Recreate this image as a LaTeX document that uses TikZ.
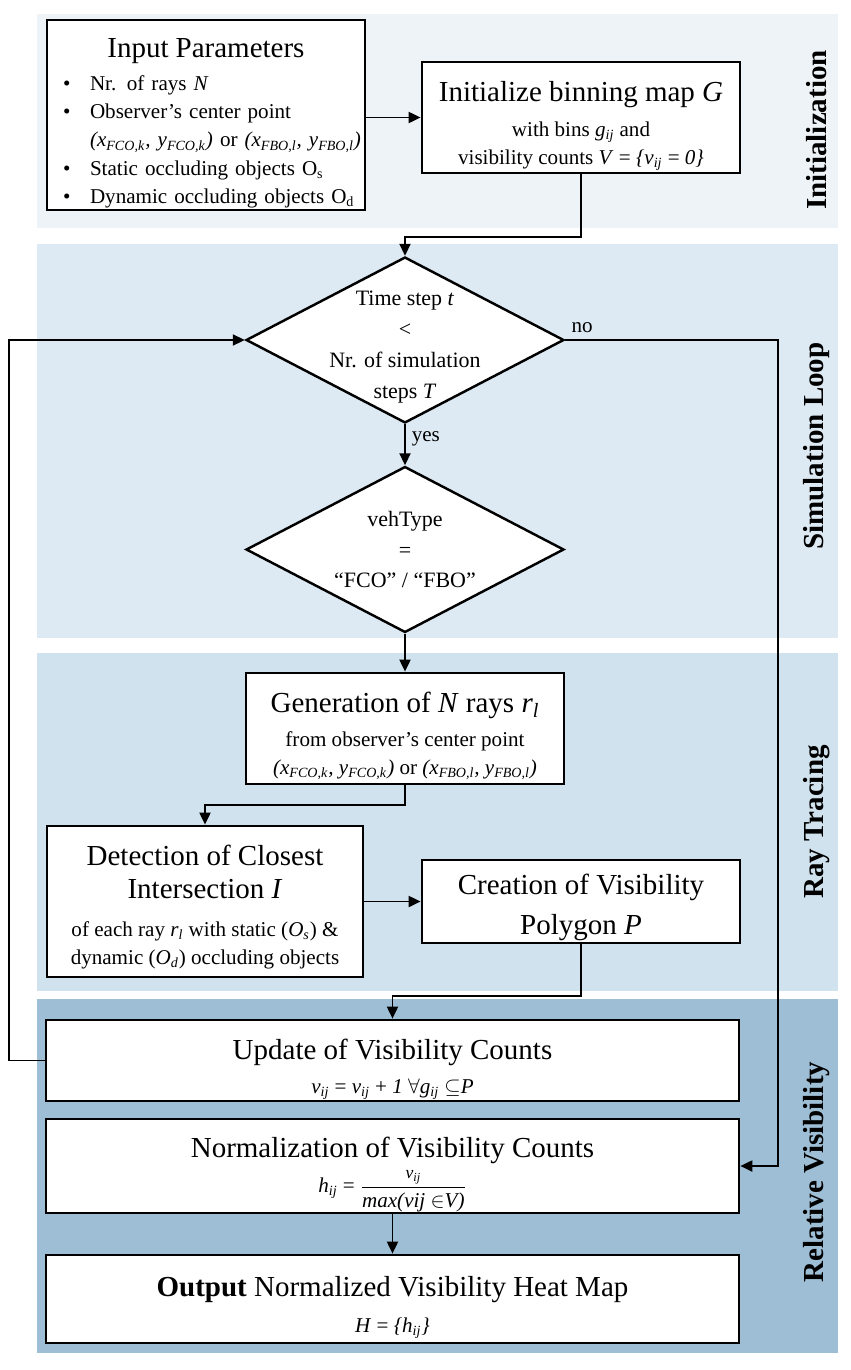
\documentclass[tikz,border=0pt]{standalone}
\usepackage{amsmath}
\usepackage{fontspec}
\setmainfont{Liberation Serif}
\usepackage{tikz}
\usetikzlibrary{positioning, arrows.meta, calc, shapes.geometric}

\definecolor{initbg}{HTML}{EEF3F8}
\definecolor{loopbg}{HTML}{DEEAF3}
\definecolor{raybg}{HTML}{D0E2EE}
\definecolor{relbg}{HTML}{9EBED5}

\newcommand{\headfont}{\fontsize{16.5}{20}\selectfont}
\newcommand{\lift}[1][21pt]{\rule{0pt}{#1}}
\newcommand{\mi}[1]{\textit{#1}}
\newcommand{\sbi}[1]{\textsubscript{\textit{#1}}}
\newcommand{\bitem}{\hspace*{0.12cm}\makebox[0.54cm][l]{\textbullet}}
\newcommand{\obspt}{\mi{(x}\sbi{FCO,k}\mi{, y}\sbi{FCO,k}\mi{)} or \mi{(x}\sbi{FBO,l}\mi{, y}\sbi{FBO,l}\mi{)}}

\begin{document}
\begin{tikzpicture}[x=0.02cm, y=-0.02cm, >={Triangle[length=2.4mm, width=2.2mm]},
    font=\fontsize{12}{16}\selectfont,
    box/.style={draw, line width=1.6pt, fill=white, align=center, inner sep=0pt},
    decision/.style={draw, diamond, line width=1.4pt, fill=white, inner sep=0pt},
    dlabel/.style={align=center, font=\fontsize{12.5}{17.6}\selectfont},
    flow/.style={->, line width=1.1pt},
    phase/.style={rotate=90, font=\headfont\bfseries}]
    \useasboundingbox (0,0) rectangle (850,1370);

    % stage bands
    \fill[initbg] (37,14) rectangle (838,228);
    \fill[loopbg] (37,244) rectangle (838,638);
    \fill[raybg] (37,653) rectangle (838,991);
    \fill[relbg] (37,999) rectangle (838,1353);

    \node[phase] (lblinit) at (817,130) {Initialization};
    \node[phase] (lblloop) at (817,446) {Simulation Loop};
    \node[phase] (lblray) at (817,822) {Ray Tracing};
    \node[phase] (lblrel) at (817,1172) {Relative Visibility};

    % initialization
    \node[box, minimum width=6.36cm, minimum height=3.8cm, text width=5.96cm,
          align=left, inner xsep=0.2cm] (input) at (206,115) {%
        \lift[20pt]\hfill{\headfont Input Parameters}\hfill\null\\[3pt]
        \bitem Nr. of rays \mi{N}\\
        \bitem Observer’s center point\\
        \hspace*{0.66cm}\mbox{\obspt}\\
        \bitem Static occluding objects O\textsubscript{s}\\
        \bitem Dynamic occluding objects O\textsubscript{d}};
    \node[box, minimum width=6.36cm, minimum height=2.22cm] (initmap) at (581,117.5)
        {{\headfont\lift Initialize binning map \mi{G}}\\[4pt]
         with bins \mi{g}\sbi{ij} and\\
         visibility counts \mi{V} = \mi{\{v}\sbi{ij} = \mi{0\}}};

    % simulation loop
    \node[decision, minimum width=6.36cm, minimum height=3.32cm,
          label={[dlabel, yshift=-4pt]center:Time step \mi{t}\\<\\Nr. of simulation\\steps \mi{T}}] (tcheck) at (405,340) {};
    \node[decision, minimum width=6.36cm, minimum height=3.32cm,
          label={[dlabel]center:vehType\\=\\“FCO” / “FBO”}] (vtype) at (405,549.5) {};

    % ray tracing
    \node[box, minimum width=6.36cm, minimum height=2.22cm] (genrays) at (405,728.5)
        {{\headfont\lift[20pt]Generation of \mi{N} rays \mi{r}\sbi{l}}\\[3pt]
         from observer’s center point\\
         \obspt};
    \node[box, minimum width=6.32cm, minimum height=3.02cm] (detect) at (205,901.5)
        {{\headfont\lift[18pt]Detection of Closest}\\[3pt]
         {\headfont Intersection \mi{I}}\\[5.5pt]
         of each ray \mi{r}\sbi{l} with static (\mi{O}\sbi{s}) \&\\
         dynamic (\mi{O}\sbi{d}) occluding objects};
    \node[box, minimum width=6.36cm, minimum height=1.66cm] (polygon) at (581,901.5)
        {{\headfont\lift[18.5pt]Creation of Visibility}\\[7pt]
         {\headfont Polygon \mi{P}}};

    % relative visibility
    \node[box, minimum width=13.86cm, minimum height=1.62cm] (update) at (392.5,1060.5)
        {{\headfont\lift[21.5pt]Update of Visibility Counts}\\[3pt]
         \mi{v}\sbi{ij} = \mi{v}\sbi{ij} + \mi{1} $\forall$\mi{g}\sbi{ij} $\subseteq$\mi{P}};
    \node[box, minimum width=13.86cm, minimum height=1.88cm] (norm) at (392.5,1166)
        {{\headfont\lift Normalization of Visibility Counts}\\[3pt]
         \mi{h}\sbi{ij} = $\dfrac{\text{\fontsize{10}{12}\selectfont\mi{v}\sbi{ij}}}{\text{\mi{max(vij }$\in$\mi{V)}}}$};
    \node[box, minimum width=13.86cm, minimum height=1.76cm] (output) at (392.5,1299)
        {{\headfont\lift[21.5pt]\textbf{Output} Normalized Visibility Heat Map}\\[4.5pt]
         \mi{H} = \mi{\{h}\sbi{ij}\mi{\}}};

    % connectors
    \draw[flow] (input.east |- initmap.west) -- (initmap.west);
    \draw[flow] (initmap.south) -- ++(0,63) -| (tcheck.north);
    \draw[flow] (tcheck.south) -- node[right, pos=0.35] {yes} (vtype.north);
    \draw[flow] (vtype.south) -- (genrays.north);
    \draw[flow] (genrays.south) -- ++(0,20) -| (detect.north);
    \draw[flow] (detect) -- (polygon);
    \draw[flow] (polygon.south) -- ++(0,52) -| (update.north);
    \draw[flow] (update.west) -- ++(-36,0) |- (tcheck.west);
    \draw[flow] (tcheck.east) -- node[above, pos=0.08] {no} ++(213,0) |- (norm.east);
    \draw[flow] (norm) -- (output);
\end{tikzpicture}
\end{document}
